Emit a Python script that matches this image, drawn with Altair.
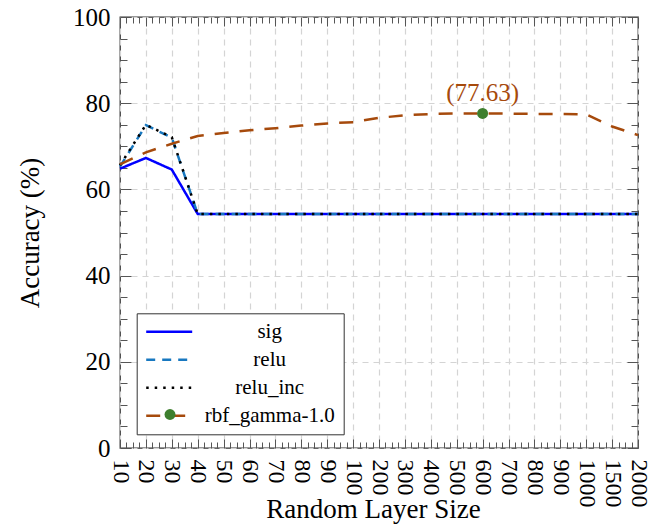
import altair as alt
import pandas as pd

# ---------------- data ----------------
sizes = ["10", "20", "30", "40", "50", "60", "70", "80", "90", "100", "200",
         "300", "400", "500", "600", "700", "800", "900", "1000", "1500", "2000"]
sig = [64.8, 67.3, 64.6] + [54.3] * 18
relu = [65.3, 74.9, 72.0] + [54.3] * 18
relu_inc = [65.6, 75.0, 72.1] + [54.3] * 18
rbf = [65.8, 68.6, 70.6, 72.4, 73.1, 73.7, 74.2, 74.8, 75.3, 75.6, 76.6,
       77.2, 77.5, 77.6, 77.63, 77.6, 77.5, 77.5, 77.4, 74.6, 72.6]
series_names = ["sig", "relu", "relu_inc", "rbf_gamma-1.0"]
series_values = [sig, relu, relu_inc, rbf]
series_colors = ["#0000ff", "#1878c0", "#000000", "#a64a0c"]
series_dashes = [[1, 0], [9, 7], [2.5, 6], [14, 11]]
marker_color = "#3e7f2e"
y_major = [0, 20, 40, 60, 80, 100]

rows = []
for name, vals in zip(series_names, series_values):
    for i, v in enumerate(vals):
        rows.append({"idx": i, "size": sizes[i], "acc": v, "series": name})
df = pd.DataFrame(rows)

peak_i = max(range(len(rbf)), key=lambda i: rbf[i])
peak = pd.DataFrame({
    "idx": [peak_i],
    "acc": [rbf[peak_i]],
    "label": [f"({rbf[peak_i]:.2f})"],
    "mk": ["rbf_gamma-1.0"],
})

# ---------------- layout ----------------
W, H = 518, 431
FONT = "Times New Roman, Liberation Serif, DejaVu Serif, serif"
n = len(sizes)
x_scale = alt.Scale(domain=[0, n - 1], nice=False, zero=False)
y_scale = alt.Scale(domain=[0, 100], nice=False)
label_expr = "[" + ",".join(f"'{s}'" for s in sizes) + "][datum.value]"
x_minor = [i / 4 for i in range(0, 4 * (n - 1) + 1)]
y_minor = list(range(0, 101, 5))
x_tick_size = {"condition": {"test": "datum.value % 1 === 0", "value": 9}, "value": 6}
y_tick_size = {"condition": {"test": "datum.value % 20 === 0", "value": 11}, "value": 7}
TICK_COLOR = "#555555"

# main axes (labels + grid)
x_main = alt.Axis(orient="bottom", values=list(range(n)), labelExpr=label_expr,
                  labelAngle=90, labelAlign="left", labelBaseline="middle",
                  labelPadding=11, labelFont=FONT, labelFontSize=24, labelColor="#000",
                  ticks=False, domain=False, grid=True, gridDash=[6, 5],
                  gridColor="#d4d4d4", gridWidth=1.2,
                  title="Random Layer Size", titleFont=FONT, titleFontSize=27,
                  titleFontWeight="normal", titleColor="#000",
                  titleBaseline="alphabetic", titleY=69, titleX=W / 2 - 6)
y_main = alt.Axis(orient="left", values=y_major, labelPadding=10, labelFont=FONT,
                  labelFontSize=25, labelColor="#000", ticks=False, domain=False,
                  grid=True, gridDash=[6, 5], gridColor="#d4d4d4", gridWidth=1.2,
                  title="Accuracy (%)", titleFont=FONT, titleFontSize=27,
                  titleFontWeight="normal", titleColor="#000", titleAngle=270,
                  titleBaseline="alphabetic", titleX=-82, titleY=H / 2)

# inward tick axes
x_ticks_bottom = alt.Axis(orient="top", offset=-H, values=x_minor, tickSize=x_tick_size,
                          tickColor=TICK_COLOR, labels=False, grid=False, domain=False, title=None)
x_ticks_top = alt.Axis(orient="bottom", offset=-H, values=x_minor, tickSize=x_tick_size,
                       tickColor=TICK_COLOR, labels=False, grid=False, domain=False, title=None)
y_ticks_left = alt.Axis(orient="right", offset=-W, values=y_minor, tickSize=y_tick_size,
                        tickColor=TICK_COLOR, labels=False, grid=False, domain=False, title=None)
y_ticks_right = alt.Axis(orient="left", offset=-W, values=y_minor, tickSize=y_tick_size,
                         tickColor=TICK_COLOR, labels=False, grid=False, domain=False, title=None)

line_legend = dict(orient="none", legendX=16.7, legendY=296.3,
                   title=None, symbolType="stroke", symbolSize=2116,
                   symbolStrokeWidth=2.5, clipHeight=21, rowPadding=6,
                   padding=8, labelAlign="center", labelOffset=76,
                   labelFont=FONT, labelFontSize=21, labelColor="#000",
                   strokeColor="#333333", fillColor="white")

lines = alt.Chart(df).mark_line(strokeWidth=2.5).encode(
    x=alt.X("idx:Q", scale=x_scale, axis=x_main),
    y=alt.Y("acc:Q", scale=y_scale, axis=y_main),
    color=alt.Color("series:N", sort=series_names,
                    scale=alt.Scale(domain=series_names, range=series_colors),
                    legend=alt.Legend(**line_legend)),
    strokeDash=alt.StrokeDash("series:N", sort=series_names,
                              scale=alt.Scale(domain=series_names, range=series_dashes),
                              legend=alt.Legend(**line_legend)),
)

point = alt.Chart(peak).mark_point(filled=True, size=120, opacity=1, color=marker_color).encode(
    x=alt.X("idx:Q", scale=x_scale, axis=x_ticks_bottom),
    y=alt.Y("acc:Q", scale=y_scale, axis=y_ticks_left),
    shape=alt.Shape("mk:N", scale=alt.Scale(range=["circle"]),
                    legend=alt.Legend(orient="none", legendX=43.5, legendY=391,
                                      title=None, labelExpr="''", symbolType="circle",
                                      symbolSize=120, symbolFillColor=marker_color,
                                      symbolStrokeColor=marker_color, symbolOpacity=1,
                                      padding=0)),
)

text = alt.Chart(peak).mark_text(dy=-12, baseline="alphabetic", align="center", font=FONT,
                                 fontSize=25, color=series_colors[3]).encode(
    x=alt.X("idx:Q", scale=x_scale, axis=x_ticks_top),
    y=alt.Y("acc:Q", scale=y_scale, axis=y_ticks_right),
    text="label:N",
)

chart = alt.layer(lines, point, text).resolve_axis(
    x="independent", y="independent"
).properties(
    width=W, height=H,
    autosize=alt.AutoSizeParams(type="none"),
    padding={"left": 120, "top": 17, "right": 11, "bottom": 76},
    background="white",
).configure_view(stroke="#333333", strokeWidth=1.3)

chart.save("out.html", embed_options={"renderer": "svg", "actions": False})
